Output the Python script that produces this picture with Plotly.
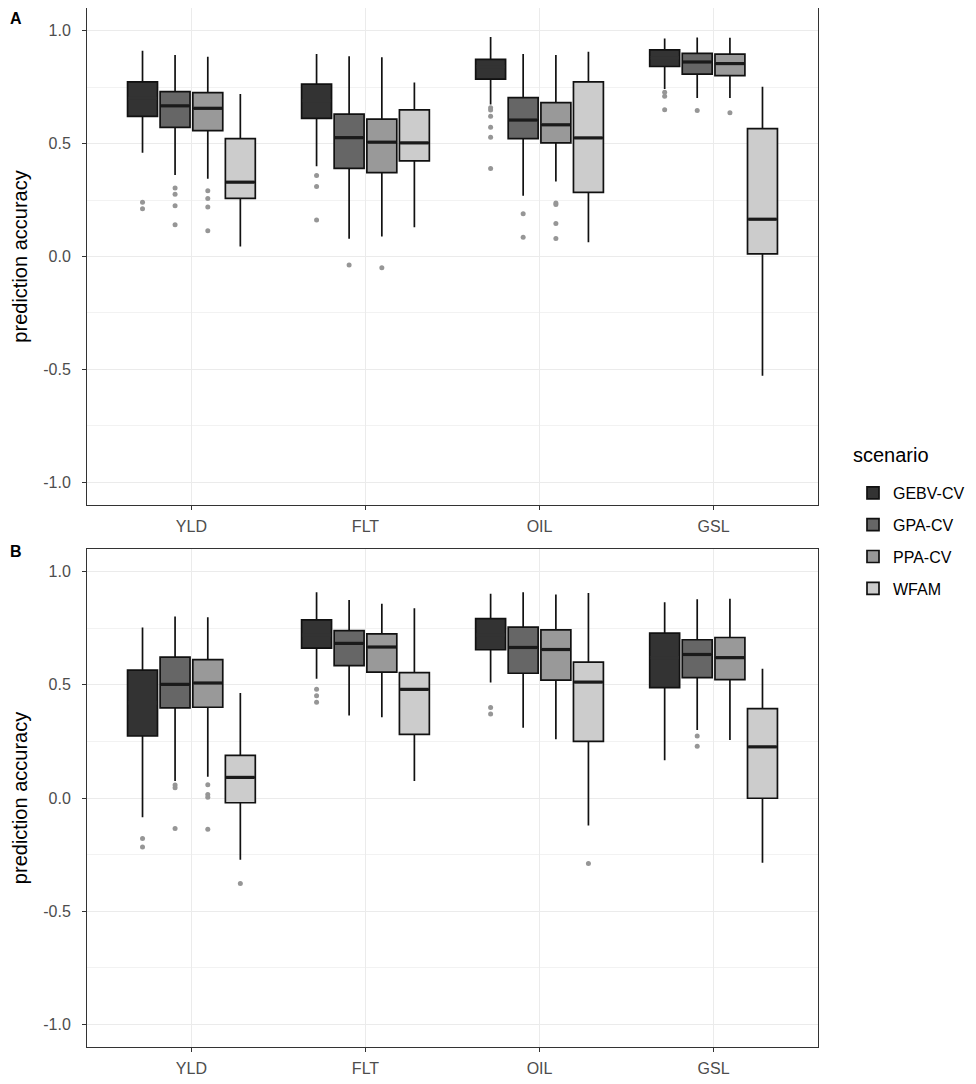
import plotly.graph_objects as go

CATEGORIES = ["YLD", "FLT", "OIL", "GSL"]
SCENARIOS = ["GEBV-CV", "GPA-CV", "PPA-CV", "WFAM"]
FILLS = ["#333333", "#666666", "#999999", "#cccccc"]
MEDIAN_COLORS = ["#333333", "#1a1a1a", "#1a1a1a", "#1a1a1a"]
OFFSETS = [-0.281, -0.094, 0.094, 0.281]
BOX_WIDTH = 0.172

Y_TICKS = [-1.0, -0.5, 0.0, 0.5, 1.0]
Y_TICK_LABELS = ["-1.0", "-0.5", "0.0", "0.5", "1.0"]

# Panel A  (rows = scenarios, columns = YLD, FLT, OIL, GSL)
A_LOWER = [[0.459, 0.399, 0.673, 0.741],
           [0.361, 0.079, 0.269, 0.702],
           [0.344, 0.088, 0.332, 0.702],
           [0.044, 0.129, 0.063, -0.528]]
A_Q1 = [[0.620, 0.611, 0.785, 0.841],
        [0.572, 0.390, 0.522, 0.807],
        [0.557, 0.371, 0.503, 0.801],
        [0.257, 0.423, 0.284, 0.012]]
A_MEDIAN = [[0.700, 0.690, 0.840, 0.880],
            [0.667, 0.526, 0.604, 0.861],
            [0.656, 0.506, 0.583, 0.854],
            [0.329, 0.503, 0.525, 0.165]]
A_Q3 = [[0.773, 0.763, 0.873, 0.915],
        [0.730, 0.630, 0.703, 0.899],
        [0.725, 0.608, 0.681, 0.896],
        [0.522, 0.649, 0.773, 0.566]]
A_UPPER = [[0.911, 0.896, 0.972, 0.965],
           [0.892, 0.886, 0.896, 0.969],
           [0.884, 0.882, 0.892, 0.968],
           [0.719, 0.770, 0.906, 0.751]]
A_OUTLIERS = [
    [[0.240, 0.211], [0.358, 0.310, 0.162], [0.658, 0.648, 0.621, 0.572, 0.528, 0.390], [0.727, 0.709, 0.650]],
    [[0.303, 0.276, 0.225, 0.140], [-0.038], [0.189, 0.085], [0.646]],
    [[0.291, 0.257, 0.219, 0.114], [-0.050], [0.237, 0.230, 0.146, 0.080], [0.636]],
    [[], [], [], []],
]

# Panel B
B_LOWER = [[-0.085, 0.527, 0.510, 0.167],
           [0.075, 0.364, 0.310, 0.300],
           [0.094, 0.357, 0.259, 0.256],
           [-0.273, 0.075, -0.122, -0.286]]
B_Q1 = [[0.274, 0.662, 0.655, 0.488],
        [0.398, 0.585, 0.551, 0.532],
        [0.401, 0.556, 0.521, 0.523],
        [-0.021, 0.281, 0.250, -0.001]]
B_MEDIAN = [[0.420, 0.720, 0.720, 0.620],
            [0.502, 0.683, 0.665, 0.634],
            [0.508, 0.667, 0.656, 0.620],
            [0.091, 0.480, 0.512, 0.226]]
B_Q3 = [[0.565, 0.787, 0.792, 0.728],
        [0.622, 0.739, 0.755, 0.699],
        [0.611, 0.725, 0.743, 0.709],
        [0.188, 0.554, 0.600, 0.395]]
B_UPPER = [[0.753, 0.909, 0.902, 0.865],
           [0.802, 0.875, 0.909, 0.878],
           [0.799, 0.858, 0.899, 0.880],
           [0.464, 0.838, 0.906, 0.571]]
B_OUTLIERS = [
    [[-0.179, -0.217], [0.480, 0.452, 0.423], [0.400, 0.371], []],
    [[0.057, 0.045, -0.135], [], [], [0.274, 0.229]],
    [[0.059, 0.015, 0.003, -0.138], [], [], []],
    [[-0.378], [], [-0.289], []],
]

# figure size; the page adds an 8px body margin, so positions below are in figure pixels
W, H = 976, 1084
PX0, PX1 = 79, 810
PANEL_A = (0, 497)
PANEL_B = (541, 1039)
FONT = "Liberation Sans, Arial, sans-serif"

fig = go.Figure()

panels = [
    ("x", "y", A_LOWER, A_Q1, A_MEDIAN, A_Q3, A_UPPER, A_OUTLIERS, True),
    ("x2", "y2", B_LOWER, B_Q1, B_MEDIAN, B_Q3, B_UPPER, B_OUTLIERS, False),
]

for xa, ya, lo, q1, med, q3, up, outs, show in panels:
    for s, name in enumerate(SCENARIOS):
        xs = [i + 1 + OFFSETS[s] for i in range(len(CATEGORIES))]
        fig.add_trace(go.Box(
            x=xs, lowerfence=lo[s], q1=q1[s], median=med[s], q3=q3[s], upperfence=up[s],
            name=name, legendgroup=name, showlegend=show,
            fillcolor=FILLS[s], line=dict(color="#111111", width=1.7),
            width=BOX_WIDTH, whiskerwidth=0, boxpoints=False,
            xaxis=xa, yaxis=ya, hoverinfo="skip",
        ))
        # thicker median segments (ggplot style)
        mx, my = [], []
        for x0, m in zip(xs, med[s]):
            mx += [x0 - BOX_WIDTH / 2 + 0.004, x0 + BOX_WIDTH / 2 - 0.004, None]
            my += [m, m, None]
        fig.add_trace(go.Scatter(
            x=mx, y=my, mode="lines", showlegend=False, legendgroup=name,
            line=dict(color=MEDIAN_COLORS[s], width=3.2),
            xaxis=xa, yaxis=ya, hoverinfo="skip",
        ))
        px, py = [], []
        for i, vals in enumerate(outs[s]):
            for v in vals:
                px.append(i + 1 + OFFSETS[s])
                py.append(v)
        if px:
            fig.add_trace(go.Scatter(
                x=px, y=py, mode="markers", showlegend=False, legendgroup=name,
                marker=dict(color="#969696", size=5),
                xaxis=xa, yaxis=ya, hoverinfo="skip",
            ))

xdom = [PX0 / W, PX1 / W]
def ydom(p):
    return [1 - p[1] / H, 1 - p[0] / H]

tickfont = dict(family=FONT, size=16, color="#4d4d4d")
common_x = dict(
    range=[0.4, 4.6], tickvals=[1, 2, 3, 4], ticktext=CATEGORIES,
    showgrid=True, gridcolor="#ebebeb", gridwidth=1.2, zeroline=False,
    showline=True, linecolor="#333333", linewidth=1, mirror=True,
    ticks="outside", ticklen=4, tickcolor="#333333", tickfont=tickfont,
    ticklabelstandoff=3, domain=xdom,
)
common_y = dict(
    range=[-1.1, 1.1], tickvals=Y_TICKS, ticktext=Y_TICK_LABELS,
    showgrid=True, gridcolor="#ebebeb", gridwidth=1.2, zeroline=False,
    showline=True, linecolor="#333333", linewidth=1, mirror=True,
    ticks="outside", ticklen=4, tickcolor="#333333", tickfont=tickfont,
    ticklabelstandoff=8,
    minor=dict(tick0=0.25, dtick=0.5, showgrid=True, gridcolor="#f2f2f2", gridwidth=0.8, ticks=""),
    title=dict(text="prediction accuracy", font=dict(family=FONT, size=20, color="#000000"),
               standoff=10),
)

fig.update_layout(
    width=W, height=H,
    margin=dict(l=0, r=0, t=0, b=0),
    paper_bgcolor="white", plot_bgcolor="white",
    boxmode="overlay",
    xaxis=dict(common_x, anchor="y"),
    yaxis=dict(common_y, domain=ydom(PANEL_A), anchor="x"),
    xaxis2=dict(common_x, anchor="y2"),
    yaxis2=dict(common_y, domain=ydom(PANEL_B), anchor="x2"),
    legend=dict(
        x=845 / W, y=1 - 468 / H, xanchor="left", yanchor="top",
        font=dict(family=FONT, size=16, color="#000"),
        tracegroupgap=8, bgcolor="rgba(0,0,0,0)",
    ),
    font=dict(family=FONT),
    annotations=[
        dict(text="scenario", x=843 / W, y=1 - 447 / H, xref="paper", yref="paper",
             xanchor="left", yanchor="middle", showarrow=False,
             font=dict(size=20, color="#000", family=FONT)),
        dict(text="<b>A</b>", x=0, y=1, xref="paper", yref="paper",
             xanchor="left", yanchor="top", showarrow=False,
             font=dict(size=16, color="#000", family=FONT)),
        dict(text="<b>B</b>", x=0, y=1 - 533 / H, xref="paper", yref="paper",
             xanchor="left", yanchor="top", showarrow=False,
             font=dict(size=16, color="#000", family=FONT)),
    ],
)

fig.write_html("out.html")
